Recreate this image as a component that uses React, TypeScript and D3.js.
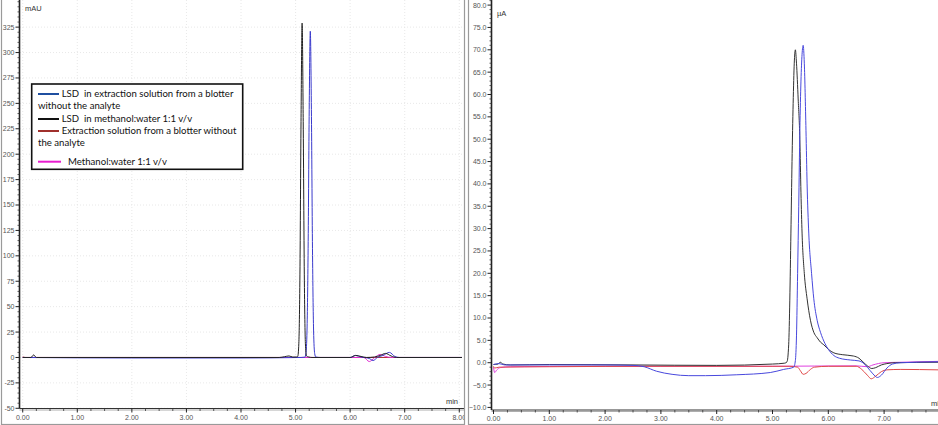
import React from 'react';
import * as d3 from 'd3';

type Pt = [number, number];

// ---------- tick values ----------
const timeTicks = [0, 1, 2, 3, 4, 5, 6, 7, 8];
const leftYTicks = [-50, -25, 0, 25, 50, 75, 100, 125, 150, 175, 200, 225, 250, 275, 300, 325];
const rightYTicks = [-10, -5, 0, 5, 10, 15, 20, 25, 30, 35, 40, 45, 50, 55, 60, 65, 70, 75, 80];

// ---------- legend ----------
const legendLabels = [
  ['LSD  in extraction solution from a blotter', 'without the analyte'],
  ['LSD  in methanol:water 1:1 v/v'],
  ['Extraction solution from a blotter without', 'the analyte'],
  ['Methanol:water 1:1 v/v'],
];

// ---------- left chromatogram (mAU vs min) ----------
const leftBlack: Pt[] = [
  [0, 0], [0.15, 0], [0.2, 2.5], [0.25, 0], [4.7, 0], [4.8, 0.8], [4.88, 1.5], [4.95, 0.4],
  [5.02, 0.5], [5.04, 1], [5.06, 14], [5.08, 82], [5.1, 232], [5.12, 329], [5.14, 232],
  [5.16, 82], [5.18, 14], [5.2, 1.5], [5.24, 0.5], [5.3, 0], [6.0, 0], [6.1, 2], [6.2, 1],
  [6.3, 0], [6.45, 0.5], [6.55, 2], [6.65, 4], [6.75, 1.5], [6.85, 0], [8.05, 0],
];
const leftBlue: Pt[] = [
  [0, 0], [2, -0.5], [4, -0.5], [5.1, 0], [5.17, 0.3], [5.19, 4], [5.21, 27], [5.23, 107],
  [5.25, 244], [5.27, 321], [5.29, 244], [5.31, 107], [5.33, 27], [5.35, 4], [5.37, 0.5],
  [5.45, 0], [6.0, 0], [6.1, 2], [6.2, 0.5], [6.35, -1], [6.42, -3], [6.5, 0], [6.6, 2],
  [6.72, 5], [6.82, 1], [6.9, 0], [8.05, 0],
];
const leftRed: Pt[] = [[0, 0.5], [0.05, 0], [8.05, 0]];
const leftMagenta: Pt[] = [
  [0, 0], [6.25, 0], [6.35, -4], [6.45, 0], [6.55, 3], [6.65, 1], [6.75, 0], [8.05, 0],
];

// ---------- right chromatogram (µA vs min) ----------
const rightBlack: Pt[] = [
  [0, -0.4], [0.08, -0.3], [0.12, 0.1], [0.17, -0.3], [0.3, -0.5], [1, -0.4], [2.5, -0.5],
  [4, -0.6], [5.0, -0.3], [5.22, -0.1], [5.26, 0.2], [5.29, 4], [5.31, 14], [5.33, 29],
  [5.35, 45], [5.37, 58], [5.39, 67], [5.41, 70], [5.43, 67], [5.46, 59], [5.49, 50],
  [5.51, 38], [5.53, 29], [5.57, 20], [5.62, 14.3], [5.68, 9.5], [5.74, 6.8], [5.8, 5.6],
  [5.86, 4.6], [5.92, 4.0], [6.0, 3.0], [6.1, 2.2], [6.25, 1.8], [6.45, 1.5], [6.55, 1.0],
  [6.62, 0.2], [6.7, -0.7], [6.78, -1.3], [6.85, -1.1], [6.95, -0.5], [7.05, -0.2],
  [7.2, 0], [7.97, 0.1],
];
const rightBlue: Pt[] = [
  [0, -0.4], [0.1, -0.2], [0.2, -0.5], [1, -0.5], [2, -0.5], [2.5, -0.6], [2.7, -0.9],
  [2.92, -1.9], [3.2, -2.6], [3.5, -2.9], [3.8, -2.9], [4.36, -2.7], [4.96, -2.2],
  [5.2, -1.5], [5.38, -1.0], [5.41, 0.5], [5.43, 6], [5.45, 20], [5.47, 35], [5.49, 52],
  [5.51, 63], [5.53, 69], [5.55, 71], [5.57, 67], [5.6, 52], [5.62, 40], [5.65, 29],
  [5.7, 20], [5.74, 14.3], [5.8, 9.5], [5.86, 6.8], [5.94, 4.3], [6.0, 3.0], [6.1, 1.6],
  [6.2, 1.0], [6.4, 0.6], [6.55, 0.4], [6.62, 0], [6.7, -1.0], [6.8, -2.5], [6.88, -3.3],
  [6.95, -2.8], [7.05, -1.2], [7.15, -0.3], [7.3, 0], [7.97, 0.2],
];
const rightRed: Pt[] = [
  [0, -0.8], [0.02, -1.2], [0.1, -1.0], [1, -0.9], [3, -0.8], [5.3, -0.8], [5.45, -1.0],
  [5.5, -1.8], [5.55, -2.6], [5.6, -2.4], [5.68, -1.5], [5.75, -1.0], [6.0, -0.8],
  [6.5, -0.8], [6.6, -1.5], [6.7, -2.8], [6.77, -3.6], [6.85, -3.0], [6.95, -2.0],
  [7.05, -1.6], [7.3, -1.5], [7.97, -1.6],
];
const rightMagenta: Pt[] = [
  [0, -1.0], [0.02, -2.2], [0.06, -1.6], [0.12, -1.1], [0.3, -0.9], [2, -0.8], [5, -0.8],
  [6.5, -0.7], [6.7, -0.9], [6.8, -0.5], [7.0, 0], [7.3, 0.1], [7.97, 0.3],
];

const FONT = '"Liberation Sans", Arial, sans-serif';

type Series = { data: Pt[]; color: string; width: number };

type PanelProps = {
  id: string;
  frameX0: number;
  frameX1: number;
  plotLeft: number;
  plotRight: number;
  axisY: number;
  xDomain: [number, number];
  yDomain: [number, number];
  yTicks: number[];
  yMinorStep: number;
  yFormat: (v: number) => string;
  unit: string;
  unitX: number;
  unitY: number;
  minX: number;
  minAnchor: 'start' | 'end';
  series: Series[];
  grid: boolean;
  labelY: number;
  labelLimit: number;
};

function Panel(p: PanelProps) {
  const x = d3.scaleLinear().domain(p.xDomain).range([p.plotLeft, p.plotRight]);
  const y = d3.scaleLinear().domain(p.yDomain).range([p.axisY, 0]);
  const line = d3
    .line<Pt>()
    .x((d) => x(d[0]))
    .y((d) => y(d[1]))
    .curve(d3.curveMonotoneX);

  const xMinor = d3
    .range(0, 8.01, 0.25)
    .filter((v) => x(v) <= p.plotRight + 0.5 && Math.abs(v - Math.round(v)) > 1e-6);
  const yMinor = d3
    .range(Math.ceil(p.yDomain[0] / p.yMinorStep) * p.yMinorStep, p.yDomain[1], p.yMinorStep)
    .filter((v) => !p.yTicks.some((t) => Math.abs(t - v) < 1e-6));
  const xMajor = timeTicks.filter((t) => x(t) <= p.labelLimit);
  const ax = p.plotLeft - 0.5;

  return (
    <g>
      <defs>
        <clipPath id={`panel-${p.id}`}>
          <rect x={p.frameX0} y={0} width={p.frameX1 - p.frameX0} height={425} />
        </clipPath>
        <clipPath id={`plot-${p.id}`}>
          <rect x={p.plotLeft} y={0} width={p.plotRight - p.plotLeft} height={p.axisY} />
        </clipPath>
      </defs>
      <g clipPath={`url(#panel-${p.id})`}>
        {p.grid && (
          <g stroke="#e2e2e2" strokeWidth={0.8} strokeDasharray="1,2">
            {xMajor.map((t) => (
              <line key={`gx${t}`} x1={x(t)} x2={x(t)} y1={0} y2={p.axisY} />
            ))}
            {p.yTicks.map((t) => (
              <line key={`gy${t}`} x1={p.plotLeft} x2={p.plotRight} y1={y(t)} y2={y(t)} />
            ))}
          </g>
        )}
        <g clipPath={`url(#plot-${p.id})`}>
          {p.series.map((s, i) => (
            <path
              key={i}
              d={line(s.data) || ''}
              fill="none"
              stroke={s.color}
              strokeWidth={s.width}
              strokeLinejoin="round"
            />
          ))}
        </g>
        {/* y axis */}
        <line x1={ax} x2={ax} y1={0} y2={p.axisY} stroke="#222" strokeWidth={1.6} />
        {p.yTicks.map((t) => (
          <g key={`yt${t}`}>
            <line x1={ax - 4} x2={ax} y1={y(t)} y2={y(t)} stroke="#222" strokeWidth={1} />
            <text
              x={ax - 5}
              y={y(t)}
              dy="0.35em"
              textAnchor="end"
              fontFamily={FONT}
              fontSize={7}
              fill="#555"
            >
              {p.yFormat(t)}
            </text>
          </g>
        ))}
        {yMinor.map((t) => (
          <line key={`ym${t}`} x1={ax - 2} x2={ax} y1={y(t)} y2={y(t)} stroke="#333" strokeWidth={0.8} />
        ))}
        {/* x axis */}
        <line x1={ax} x2={p.plotRight + 6} y1={p.axisY} y2={p.axisY} stroke="#333" strokeWidth={1.2} />
        <line
          x1={ax}
          x2={p.plotRight + 6}
          y1={p.axisY + 1.5}
          y2={p.axisY + 1.5}
          stroke="#999"
          strokeWidth={0.8}
        />
        {xMajor.map((t) => (
          <g key={`xt${t}`}>
            <line x1={x(t)} x2={x(t)} y1={p.axisY} y2={p.axisY + 4} stroke="#222" strokeWidth={1} />
            <text
              x={x(t)}
              y={p.labelY}
              dy="0.35em"
              textAnchor="middle"
              fontFamily={FONT}
              fontSize={7}
              fill="#555"
            >
              {d3.format('.2f')(t)}
            </text>
          </g>
        ))}
        {xMinor.map((t) => (
          <line key={`xm${t}`} x1={x(t)} x2={x(t)} y1={p.axisY} y2={p.axisY + 2.5} stroke="#333" strokeWidth={0.8} />
        ))}
        <text x={p.unitX} y={p.unitY} dy="0.35em" fontFamily={FONT} fontSize={7.5} fill="#333">
          {p.unit}
        </text>
        <text
          x={p.minX}
          y={p.axisY - 7}
          dy="0.35em"
          textAnchor={p.minAnchor}
          fontFamily={FONT}
          fontSize={7.5}
          fill="#333"
        >
          min
        </text>
      </g>
      <rect
        x={p.frameX0 + 0.5}
        y={-1}
        width={p.frameX1 - p.frameX0 - 1}
        height={425.5}
        fill="none"
        stroke="#9a9a9a"
        strokeWidth={1.2}
      />
    </g>
  );
}

function Legend() {
  const colors = ['#1f4fa0', '#111111', '#a0302c', '#e81ed0'];
  const rows = [
    { lineY: 94, textX: 61.7, wrapY: 106 },
    { lineY: 119, textX: 61.7, wrapY: 0 },
    { lineY: 131, textX: 61.7, wrapY: 143 },
    { lineY: 161.7, textX: 68, wrapY: 0 },
  ];
  return (
    <g fontFamily="Lato, 'Open Sans', sans-serif" fontSize={9.6} fill="#111">
      <rect x={31.7} y={84} width={211} height={85.3} fill="#fff" stroke="#111" strokeWidth={1.6} />
      {legendLabels.map((lab, i) => (
        <g key={i}>
          <line
            x1={38}
            x2={i === 3 ? 61 : 59}
            y1={rows[i].lineY}
            y2={rows[i].lineY}
            stroke={colors[i]}
            strokeWidth={2}
          />
          <text x={rows[i].textX} y={rows[i].lineY} dy="0.35em" style={{ whiteSpace: 'pre' }}>
            {lab[0]}
          </text>
          {lab[1] && (
            <text x={38} y={rows[i].wrapY} dy="0.35em" style={{ whiteSpace: 'pre' }}>
              {lab[1]}
            </text>
          )}
        </g>
      ))}
    </g>
  );
}

export default function App() {
  const leftSeries: Series[] = [
    { data: leftRed, color: '#b03030', width: 1 },
    { data: leftMagenta, color: '#e030d0', width: 1 },
    { data: leftBlue, color: '#3a3acc', width: 1 },
    { data: leftBlack, color: '#222222', width: 1 },
  ];
  const rightSeries: Series[] = [
    { data: rightMagenta, color: '#e040e0', width: 1 },
    { data: rightRed, color: '#e04848', width: 1 },
    { data: rightBlack, color: '#333333', width: 1 },
    { data: rightBlue, color: '#4848dd', width: 1 },
  ];
  return (
    <svg
      width={938}
      height={425}
      viewBox="0 0 938 425"
      style={{ position: 'absolute', left: 0, top: 0, background: '#fff' }}
    >
      <rect x={0} y={0} width={938} height={425} fill="#fff" />
      <Panel
        id="L"
        frameX0={1}
        frameX1={465}
        plotLeft={20}
        plotRight={462}
        axisY={408.5}
        xDomain={[-0.05, 8.05]}
        yDomain={[-50.2, 351.7]}
        yTicks={leftYTicks}
        yMinorStep={5}
        yFormat={(v) => String(v)}
        unit="mAU"
        unitX={25}
        unitY={8.5}
        minX={458}
        minAnchor="end"
        series={leftSeries}
        grid={true}
        labelY={417.5}
        labelLimit={463}
      />
      <Panel
        id="R"
        frameX0={468}
        frameX1={940}
        plotLeft={492}
        plotRight={938}
        axisY={410}
        xDomain={[-0.027, 7.966]}
        yDomain={[-10.58, 81.14]}
        yTicks={rightYTicks}
        yMinorStep={1}
        yFormat={(v) => d3.format('.1f')(v)}
        unit="µA"
        unitX={497}
        unitY={13}
        minX={931}
        minAnchor="start"
        series={rightSeries}
        grid={false}
        labelY={419}
        labelLimit={925}
      />
      <Legend />
    </svg>
  );
}
